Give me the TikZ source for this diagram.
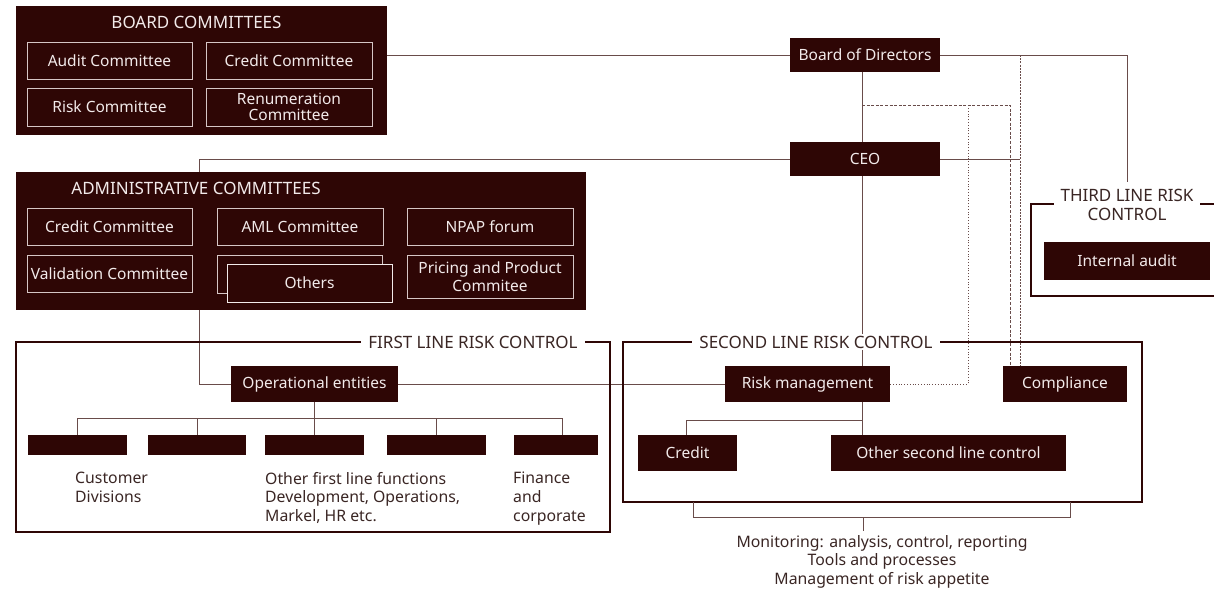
\documentclass[tikz,border=0pt]{standalone}
\usepackage{fontspec}
\setmainfont{Noto Sans}

\definecolor{dk}{RGB}{46,6,5}
\definecolor{lt}{RGB}{242,234,234}
\definecolor{edge}{RGB}{214,198,198}
\definecolor{ln}{RGB}{105,76,74}
\definecolor{lbl}{RGB}{58,38,36}

\tikzset{
  base/.style={font=\fontsize{15.5}{18}\selectfont, inner sep=0pt},
  darkbox/.style={base, fill=dk, text=lt},
  panel/.style={fill=dk, inner sep=0pt},
  paneltitle/.style={base, text=lt, font=\fontsize{17}{19}\selectfont},
  combox/.style={base, fill=dk, text=lt, draw=edge, line width=0.9pt},
  framebox/.style={draw=dk, line width=2.6pt},
  framelabel/.style={base, fill=white, text=lbl, inner xsep=7pt, inner ysep=2pt,
                     font=\fontsize{17}{19}\selectfont},
  conn/.style={draw=ln, line width=1pt},
  dashconn/.style={draw=ln, line width=1pt, dash pattern=on 3pt off 1.6pt},
  dotconn/.style={draw=ln, line width=1pt, dash pattern=on 1pt off 1.8pt},
  finedash/.style={draw=ln, line width=1pt, dash pattern=on 2pt off 1.2pt},
  note/.style={base, text=lbl, font=\fontsize{15.8}{18.7}\selectfont},
}

\begin{document}
\begin{tikzpicture}[x=1pt, y=-1pt]
\clip (0,0) rectangle (1214,592);
\fill[white] (0,0) rectangle (1214,592);

% ---------- main nodes ----------
\node[darkbox, minimum width=150, minimum height=34] (bod) at (865,55) {Board of Directors};
\node[darkbox, minimum width=150, minimum height=34] (ceo) at (865,159) {CEO};

\node[darkbox, minimum width=167, minimum height=36] (op) at (314.5,384) {Operational entities};
\node[darkbox, minimum width=165, minimum height=36] (rm) at (807.5,384) {Risk management};
\node[darkbox, minimum width=124, minimum height=36] (cmp) at (1065,384) {Compliance};
\node[darkbox, minimum width=99, minimum height=36] (cr) at (687.5,453) {Credit};
\node[darkbox, minimum width=235, minimum height=36] (ot) at (948.5,453) {Other second line control};
\node[darkbox, minimum width=166, minimum height=38] (ia) at (1127,261) {Internal audit};

% first line units
\node[darkbox, minimum width=99, minimum height=20] (f1) at (77.5,445) {};
\node[darkbox, minimum width=98, minimum height=20] (f2) at (197,445) {};
\node[darkbox, minimum width=99, minimum height=20] (f3) at (314.5,445) {};
\node[darkbox, minimum width=99, minimum height=20] (f4) at (436.5,445) {};
\node[darkbox, minimum width=84, minimum height=20] (f5) at (556,445) {};

% ---------- connectors (drawn below the panels) ----------
\coordinate (dj) at (862,105);
\coordinate (dv) at (968,105);
\coordinate (cx) at ([xshift=-45pt]cmp.north);
\coordinate (cd) at ([xshift=-55pt]cmp.north);
\draw[conn] (ceo.west) -| ([xshift=-31pt]op.west) -- (op.west);
\draw[conn] ([xshift=-3pt]bod.south) -- ([xshift=-3pt]ceo.north);
\draw[conn] ([xshift=-3pt]ceo.south) -- ([xshift=-3pt]ceo.south |- rm.north);
\draw[conn] (ceo.east) -- (ceo.east -| cx);
\draw[finedash] (cx |- bod.east) -- (cx);
\draw[dashconn] (dj) -| (cd);
\draw[dotconn] (rm.east) -| (dv);
\draw[conn] (op.east) -- (rm.west);

% first line tree
\draw[conn] (op.south) -- ++(0,16) coordinate (tj);
\draw[conn] (f1.north) |- (tj);
\draw[conn] (f2.north) |- (tj);
\draw[conn] (f3.north) -- (tj);
\draw[conn] (f4.north) |- (tj);
\draw[conn] ([xshift=6pt]f5.north) |- (tj);

% second line tree
\draw[conn] ([xshift=54.5pt]rm.south) -- ++(0,18) coordinate (rj);
\draw[conn] ([xshift=-1.5pt]cr.north) |- (rj);
\draw[conn] (rj) -- (rj |- ot.north);

% ---------- board committees ----------
\node[panel, minimum width=371, minimum height=129] (bc) at (201.5,70.5) {};
\node[paneltitle] (bct) at (196.5,22) {BOARD COMMITTEES};
\node[combox, minimum width=165, minimum height=37] (audit) at (109.5,60.5) {Audit Committee};
\node[combox, minimum width=166, minimum height=37] (bcr) at (289,60.5) {Credit Committee};
\node[combox, minimum width=165, minimum height=38] (risk) at (109.5,107) {Risk Committee};
\node[combox, minimum width=166, minimum height=38, align=center,
      font=\fontsize{15.5}{16}\selectfont] (renum) at (289,107) {Renumeration\\Committee};
\draw[conn] (bc.east |- bod.west) -- (bod.west);
\draw[conn] (bod.east) -| (1127,182) coordinate (tl);

% ---------- administrative committees ----------
\node[panel, minimum width=570, minimum height=138] (ac) at (301,241) {};
\node[paneltitle] (act) at (196,188) {ADMINISTRATIVE COMMITTEES};
\node[combox, minimum width=165, minimum height=37] (acr) at (109.5,226.5) {Credit Committee};
\node[combox, minimum width=166, minimum height=37] (aml) at (300,226.5) {AML Committee};
\node[combox, minimum width=166, minimum height=37] (npap) at (490,226.5) {NPAP forum};
\node[combox, minimum width=165, minimum height=37] (val) at (109.5,273.5) {Validation Committee};
\node[combox, minimum width=165, minimum height=38] (othb) at (299.5,274) {};
\node[combox, draw=lt, minimum width=165, minimum height=38] (oth) at (309.5,283) {Others};
\node[combox, minimum width=166, minimum height=43, align=center,
      font=\fontsize{15.5}{17.5}\selectfont] (pp) at (490,276.5) {Pricing and Product\\Commitee};

% ---------- risk control frames ----------
\draw[framebox] (16,342) rectangle (610,532);
\draw[framebox] (623,342) rectangle (1142,502);
\draw[framebox] (1031,204) rectangle (1230,296);
\node[framelabel] (l1) at (473,342) {FIRST LINE RISK CONTROL};
\node[framelabel] (l2) at (816,342) {SECOND LINE RISK CONTROL};
\node[framelabel, align=center, inner ysep=1pt] (l3) at (1127,204.5) {THIRD LINE RISK\\CONTROL};

% ---------- second line bracket ----------
\coordinate (b1) at (693,502);
\coordinate (b2) at (1070,502);
\draw[conn] (b1) -- ++(0,15) -- ([yshift=-15pt]b2) -- (b2);
\draw[conn] (863,517) -- (863,531) coordinate (bt);

% ---------- notes ----------
\node[note, anchor=north west, align=left] (n1) at (75,472) {Customer\\Divisions};
\node[note, anchor=north west, align=left] (n2) at (265,472) {Other first line functions\\Development, Operations,\\Markel, HR etc.};
\node[note, anchor=north west, align=left] (n3) at (513,472) {Finance\\and\\corporate};
\node[note, anchor=north, align=center] (n4) at (882,535) {Monitoring: analysis, control, reporting\\Tools and processes\\Management of risk appetite};
\end{tikzpicture}
\end{document}
